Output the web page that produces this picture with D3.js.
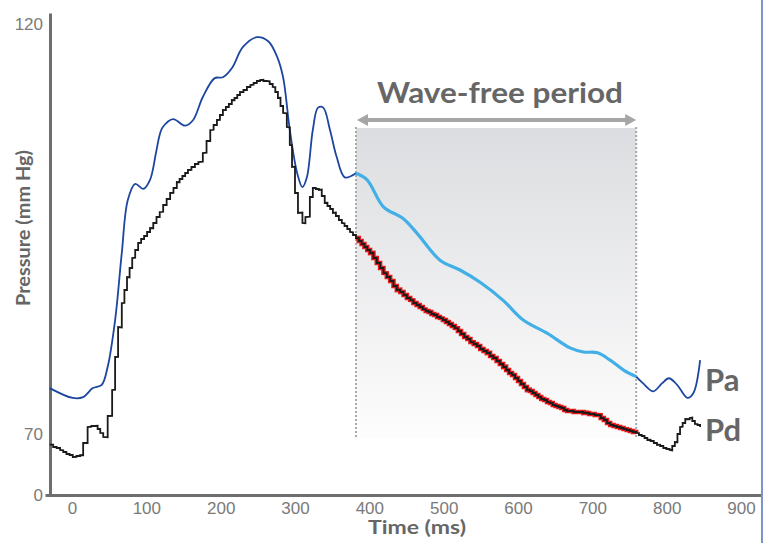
<!doctype html>
<html>
<head>
    <meta charset="utf-8">
    <script src="https://cdn.jsdelivr.net/npm/d3@7"></script>
    <style>
        html, body {
            margin: 0;
            padding: 0;
            background: #fff;
        }
        svg {
            display: block;
            font-family: Lato, "Open Sans", sans-serif;
        }
        .tick text {
            font-size: 17px;
            font-weight: 300;
            fill: #7a7a7a;
        }
        .title {
            font-weight: bold;
            fill: #666;
        }
    </style>
</head>
<body>
<svg id="chart" width="766" height="543"></svg>
<script>
    // Pa (aortic pressure), smooth trace. time in ms, pressure in mm Hg
    var paTime = [-30, 1, 15, 28, 40, 48, 58, 67, 75, 85, 96, 105, 113, 118, 122, 136, 152, 163, 176, 192, 203, 215, 230, 249, 264, 276, 284, 293, 303, 310, 316, 324, 331, 338, 347, 356, 367,
        382, 397, 419, 445, 464, 495, 522, 549, 580, 607, 639, 670, 688, 707, 724, 742,
        759, 768, 782, 794, 803, 814, 828, 836, 845];
    var paValue = [75.6, 74.4, 74.5, 75.6, 76.0, 78.2, 83.9, 92.1, 98.5, 100.5, 99.9, 101.0, 104.3, 106.5, 107.4, 108.4, 107.6, 108.3, 111.1, 113.4, 113.5, 114.6, 117.2, 118.4, 117.9, 116.0, 113.5, 107.1, 101.8, 100.1, 101.3, 107.1, 109.8, 109.8, 107.1, 103.8, 101.3,
        101.8, 101.0, 97.7, 96.3, 94.5, 91.2, 90.0, 88.5, 86.3, 83.9, 82.3, 80.5, 80.0, 79.9, 79.0, 77.8,
        77.0, 76.2, 75.2, 76.2, 76.8, 76.0, 74.4, 75.0, 79.0];

    // Pd (distal pressure), digitised / stepped trace
    var pdTime = [-30, -16, 1, 11, 15, 21, 31, 38, 42, 48, 54, 58, 62, 67, 74, 81, 89, 105, 118, 132, 141, 156, 170, 176, 186, 195, 203, 215, 226, 240, 253, 262, 270, 277, 284, 289, 293, 296, 300, 304, 310, 314, 320, 324, 332, 340, 351, 363, 374,
        382, 401, 419, 437, 455, 472, 495, 515, 536, 558, 580, 612, 639, 666, 688, 707, 724, 742,
        759, 774, 787, 804, 811, 818, 825, 831, 838, 845];
    var pdValue = [68.7, 68.0, 67.2, 67.4, 68.9, 70.9, 71.0, 70.1, 69.6, 72.2, 75.4, 79.4, 83.0, 86.0, 89.1, 91.5, 93.3, 95.1, 97.1, 99.4, 100.7, 102.2, 103.2, 104.3, 107.1, 108.3, 109.5, 110.7, 111.7, 112.6, 113.2, 113.0, 112.3, 111.0, 109.1, 107.4, 105.2, 102.6, 99.4, 97.0, 95.7, 96.5, 98.9, 100.0, 99.8, 98.2, 97.0, 95.7, 94.6,
        93.9, 92.1, 89.6, 87.6, 86.3, 85.2, 84.1, 82.9, 81.2, 79.9, 78.2, 75.4, 73.9, 72.8, 72.6, 72.3, 71.1, 70.6,
        70.1, 69.3, 68.7, 68.0, 69.0, 70.9, 71.8, 72.0, 71.2, 70.9];

    var xTicks = [0, 100, 200, 300, 400, 500, 600, 700, 800, 900];
    var yTicks = [70, 120];
    var wfStart = 382, wfEnd = 759;   // wave-free period, ms

    var svg = d3.select("#chart");

    var x = d3.scaleLinear().domain([0, 900]).range([72, 741]);
    x.domain([x.invert(45), x.invert(762)]).range([45, 762]);

    var yBase = d3.scaleLinear().domain([70, 120]).range([434, 24]);
    var yBottom = yBase.invert(495);
    var y = d3.scaleLinear().domain([yBottom, yBase.invert(13)]).range([495, 13]);

    // little staircase curve, pd trace looks sampled
    function curveStairs(context) {
        var x0, y0, started;
        return {
            areaStart: function(){}, areaEnd: function(){},
            lineStart: function(){ started = false; },
            lineEnd: function(){},
            point: function(px, py){
                if(!started){ context.moveTo(px, py); started = true; }
                else {
                    var n = Math.max(1, Math.round(Math.abs(px - x0) / 3));
                    var yPrev = y0;
                    for(var i = 1; i <= n; i++){
                        var xi = x0 + (px - x0) * i / n,
                            yi = Math.round(y0 + (py - y0) * i / n);
                        context.lineTo(xi, yPrev);
                        context.lineTo(xi, yi);
                        yPrev = yi;
                    }
                }
                x0 = px; y0 = py;
            }
        };
    }

    var pa = paTime.map(function(t, i){ return {t: t, v: paValue[i]}; });
    var pd = pdTime.map(function(t, i){ return {t: t, v: pdValue[i]}; });

    // shaded wave-free window
    var defs = svg.append("defs");
    var grad = defs.append("linearGradient").attr("id", "wfGrad")
        .attr("x1", 0).attr("y1", 0).attr("x2", 0).attr("y2", 1);
    grad.append("stop").attr("offset", "0%").attr("stop-color", "#dcdde0");
    grad.append("stop").attr("offset", "100%").attr("stop-color", "#fdfdfd");

    svg.append("rect")
        .attr("x", x(wfStart)).attr("y", 128)
        .attr("width", x(wfEnd) - x(wfStart)).attr("height", 438 - 128)
        .attr("fill", "url(#wfGrad)");

    svg.selectAll(".wf-edge").data([wfStart, wfEnd]).enter().append("line")
        .attr("class", "wf-edge")
        .attr("x1", function(d){ return x(d); }).attr("x2", function(d){ return x(d); })
        .attr("y1", 127).attr("y2", 438)
        .attr("stroke", "#a8a8aa").attr("stroke-width", 2)
        .attr("stroke-dasharray", "2,2");

    // arrow
    var ax0 = x(wfStart) + 1, ax1 = x(wfEnd), ay = 120;
    svg.append("line")
        .attr("x1", ax0 + 8).attr("x2", ax1 - 8).attr("y1", ay).attr("y2", ay)
        .attr("stroke", "#a6a6a9").attr("stroke-width", 4);
    svg.append("path")
        .attr("d", "M" + ax0 + "," + ay + "l11,-6v12z M" + ax1 + "," + ay + "l-11,-6v12z")
        .attr("fill", "#a6a6a9");

    svg.append("text").attr("class", "title")
        .attr("x", 500).attr("y", 103)
        .attr("text-anchor", "middle")
        .attr("font-size", 28)
        .attr("textLength", 246).attr("lengthAdjust", "spacingAndGlyphs")
        .text("Wave-free period");

    // axes
    var xAxis = svg.append("g")
        .attr("transform", "translate(0,495)")
        .call(d3.axisBottom(x).tickValues(xTicks).tickSize(0).tickPadding(7));
    var yAxis = svg.append("g")
        .attr("transform", "translate(50,0)")
        .call(d3.axisLeft(y).tickValues([yBottom].concat(yTicks)).tickSize(0).tickPadding(7)
            .tickFormat(function(d){ return d === yBottom ? "0" : d; }));
    [xAxis, yAxis].forEach(function(g){
        g.select(".domain").attr("stroke", "#6e6e6e").attr("stroke-width", 3);
    });
    yAxis.selectAll(".tick text").attr("x", -7);

    svg.append("text").attr("class", "title")
        .attr("x", 417).attr("y", 534)
        .attr("text-anchor", "middle").attr("font-size", 18)
        .attr("textLength", 98).attr("lengthAdjust", "spacingAndGlyphs")
        .text("Time (ms)");
    svg.append("text").attr("class", "title")
        .attr("transform", "translate(30,228) rotate(-90)")
        .attr("text-anchor", "middle").attr("font-size", 19)
        .attr("textLength", 156).attr("lengthAdjust", "spacingAndGlyphs")
        .text("Pressure (mm Hg)");

    // traces
    var paLine = d3.line().curve(d3.curveCatmullRom.alpha(0.5))
        .x(function(d){ return x(d.t); }).y(function(d){ return y(d.v); });
    var pdLine = d3.line().curve(curveStairs)
        .x(function(d){ return x(d.t); }).y(function(d){ return y(d.v); });

    function inWindow(d){ return d.t >= wfStart && d.t <= wfEnd; }

    svg.append("path").datum(pa.filter(function(d){ return d.t <= wfStart; }))
        .attr("d", paLine).attr("fill", "none").attr("stroke", "#1d46a0").attr("stroke-width", 1.8);
    svg.append("path").datum(pa.filter(function(d){ return d.t >= wfEnd; }))
        .attr("d", paLine).attr("fill", "none").attr("stroke", "#1d46a0").attr("stroke-width", 1.8);
    svg.append("path").datum(pa.filter(inWindow))
        .attr("d", paLine).attr("fill", "none").attr("stroke", "#42afe6").attr("stroke-width", 3.2);

    svg.append("path").datum(pd.filter(inWindow))
        .attr("d", pdLine).attr("fill", "none").attr("stroke", "#e3191b").attr("stroke-width", 4.5);
    svg.append("path").datum(pd)
        .attr("d", pdLine).attr("fill", "none").attr("stroke", "#1a1a1a").attr("stroke-width", 1.8);

    // series labels
    svg.append("text").attr("class", "title")
        .attr("x", 705).attr("y", 391).attr("font-size", 31).text("Pa");
    svg.append("text").attr("class", "title")
        .attr("x", 705).attr("y", 441).attr("font-size", 31).text("Pd");

    // right border line
    svg.append("line")
        .attr("x1", 762).attr("x2", 762).attr("y1", 0).attr("y2", 543)
        .attr("stroke", "#7b94c9").attr("stroke-width", 2);
</script>
</body>
</html>
